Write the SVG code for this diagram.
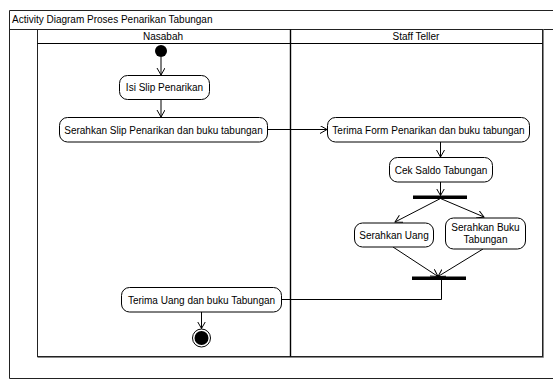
<svg xmlns="http://www.w3.org/2000/svg" width="553" height="380" viewBox="0 0 553 380">
  <style>
    text { font-family: "Liberation Sans", Arial, sans-serif; font-size: 10px; fill: #000; }
    .c { text-anchor: middle; }
    .frame { fill: none; stroke: #222; stroke-width: 1; }
    .act { fill: #fff; stroke: #000; stroke-width: 1; }
    .flow { fill: none; stroke: #000; stroke-width: 1; }
    .arr { marker-end: url(#open); }
    .bar { fill: #000; }
  </style>
  <defs>
    <marker id="open" markerUnits="userSpaceOnUse" markerWidth="10" markerHeight="10" refX="7" refY="4" orient="auto">
      <path d="M0,0 L7,4 L0,8" fill="none" stroke="#000" stroke-width="1"/>
    </marker>
  </defs>

  <rect width="553" height="380" fill="#fff"/>

  <!-- diagram frame -->
  <g id="frame">
    <path class="frame" d="M560,10.5 H9.5 V378.5 H560"/>
    <line class="frame" x1="9.5" y1="29.5" x2="560" y2="29.5"/>
    <text x="12" y="23">Activity Diagram Proses Penarikan Tabungan</text>
  </g>

  <!-- swimlanes -->
  <g id="lanes">
    <rect x="37.5" y="29.5" width="505" height="327" fill="none" stroke="#222" stroke-width="1"/>
    <line x1="543.5" y1="29.5" x2="543.5" y2="357.5" stroke="#888" stroke-width="1"/>
    <line x1="37.5" y1="357.5" x2="543.5" y2="357.5" stroke="#888" stroke-width="1"/>
    <line x1="37.5" y1="43.5" x2="542.5" y2="43.5" stroke="#000" stroke-width="1"/>
    <line x1="290.5" y1="29.5" x2="290.5" y2="356.5" stroke="#000" stroke-width="1.4"/>
    <text class="c" x="163" y="39.5">Nasabah</text>
    <text class="c" x="416" y="39.5">Staff Teller</text>
  </g>

  <!-- control flows -->
  <g id="connectors">
    <line class="flow arr" x1="161" y1="57" x2="161" y2="75"/>
    <line class="flow arr" x1="161" y1="99" x2="161" y2="117"/>
    <line class="flow arr" x1="267" y1="129.5" x2="327" y2="129.5"/>
    <line class="flow arr" x1="440.5" y1="142" x2="440.5" y2="157"/>
    <line class="flow arr" x1="440.5" y1="182" x2="440.5" y2="195.5"/>
    <line class="flow arr" x1="440.5" y1="198.5" x2="395" y2="222"/>
    <line class="flow arr" x1="440.5" y1="198.5" x2="484" y2="217"/>
    <line class="flow arr" x1="393" y1="247" x2="438" y2="276.5"/>
    <line class="flow arr" x1="483" y1="249" x2="438" y2="276.5"/>
    <path class="flow" d="M441.5,280 V299.5 H281"/>
    <line class="flow arr" x1="201.5" y1="312" x2="201.5" y2="328.5"/>
  </g>

  <!-- nodes -->
  <g id="start">
    <circle cx="161" cy="51" r="6" fill="#000"/>
  </g>

  <g id="isi-slip">
    <rect class="act" x="119.5" y="75.5" width="90" height="24" rx="8"/>
    <text class="c" x="164.5" y="91">Isi Slip Penarikan</text>
  </g>

  <g id="serahkan-slip">
    <rect class="act" x="59.5" y="117.5" width="208" height="24.5" rx="8"/>
    <text class="c" x="163.5" y="133.5">Serahkan Slip Penarikan dan buku tabungan</text>
  </g>

  <g id="terima-form">
    <rect class="act" x="327.5" y="117.5" width="202" height="24.5" rx="8"/>
    <text class="c" x="428.5" y="133.5">Terima Form Penarikan dan buku tabungan</text>
  </g>

  <g id="cek-saldo">
    <rect class="act" x="389.5" y="157.5" width="103" height="24.5" rx="8"/>
    <text class="c" x="441" y="173.5">Cek Saldo Tabungan</text>
  </g>

  <g id="fork">
    <rect class="bar" x="413" y="195.5" width="54" height="3.5"/>
  </g>

  <g id="serahkan-uang">
    <rect class="act" x="354.5" y="223" width="79" height="24" rx="8"/>
    <text class="c" x="394" y="238.5">Serahkan Uang</text>
  </g>

  <g id="serahkan-buku">
    <rect class="act" x="445.5" y="218" width="80" height="31" rx="8"/>
    <text class="c" x="485.5" y="231">Serahkan Buku</text>
    <text class="c" x="485.5" y="243">Tabungan</text>
  </g>

  <g id="join">
    <rect class="bar" x="412" y="276.5" width="54" height="3.5"/>
  </g>

  <g id="terima-uang">
    <rect class="act" x="121.5" y="287.5" width="160" height="24.5" rx="8"/>
    <text class="c" x="201.5" y="303.5">Terima Uang dan buku Tabungan</text>
  </g>

  <g id="end">
    <circle cx="201.5" cy="338" r="9" fill="#fff" stroke="#000" stroke-width="1"/>
    <circle cx="201.5" cy="338" r="7" fill="#000"/>
  </g>
</svg>
